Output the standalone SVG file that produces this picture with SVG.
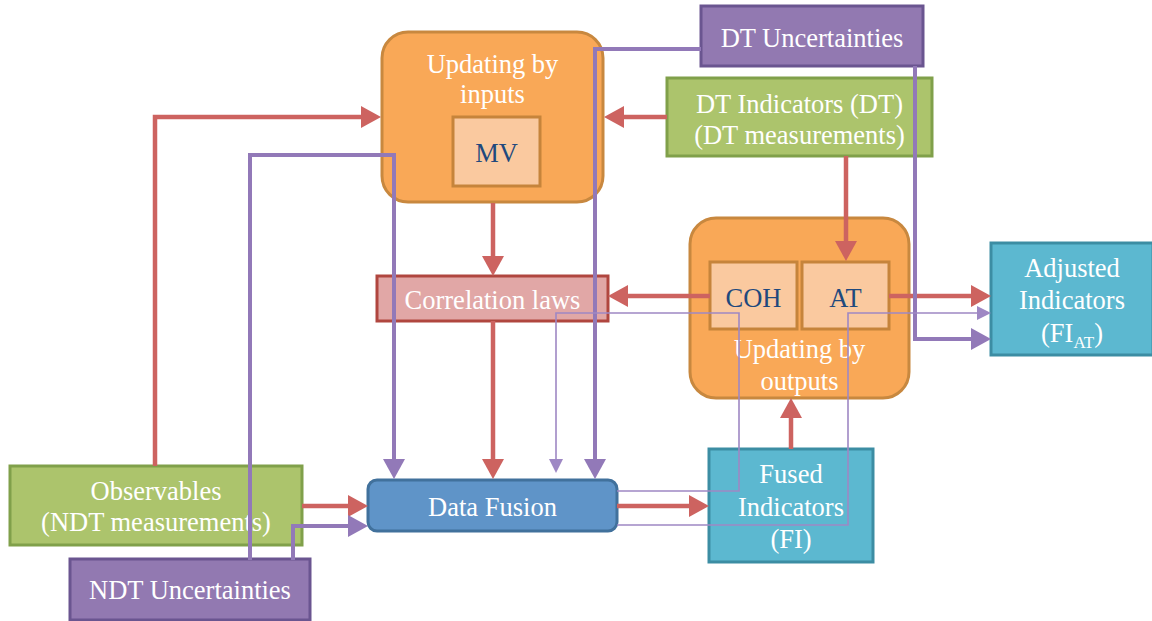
<svg xmlns="http://www.w3.org/2000/svg" width="1152" height="621" viewBox="0 0 1152 621" font-family="Liberation Serif, DejaVu Serif, serif">
<style>
text{font-family:"Liberation Serif","DejaVu Serif",serif;font-size:26.5px;text-anchor:middle;fill:#fff}
.dk{fill:#1F497D}
.org{fill:#F9A857;stroke:#C8883F;stroke-width:3}
.inr{fill:#FAC99F;stroke:#C6843B;stroke-width:3}
.grn{fill:#ACC46C;stroke:#80A04A;stroke-width:3}
.pur{fill:#9279B1;stroke:#6A5590;stroke-width:3}
.cor{fill:#E1A7A6;stroke:#B0463F;stroke-width:3}
.blu{fill:#5F94C8;stroke:#41719C;stroke-width:3}
.tea{fill:#5CB8D0;stroke:#3C8DA3;stroke-width:3}
.r{fill:none;stroke:#CD6360;stroke-width:4.5;marker-end:url(#ar)}
.p{fill:none;stroke:#9279B8;stroke-width:4;marker-end:url(#ap)}
.t{fill:none;stroke:#9E88C4;stroke-width:1.6;marker-end:url(#at)}
</style>
<defs>
<marker id="ar" markerUnits="userSpaceOnUse" markerWidth="20" markerHeight="22" viewBox="0 0 20 22" refX="10" refY="11" orient="auto"><path d="M0,0 L20,11 L0,22z" fill="#CD6360"/></marker>
<marker id="ap" markerUnits="userSpaceOnUse" markerWidth="20" markerHeight="22" viewBox="0 0 20 22" refX="10" refY="11" orient="auto"><path d="M0,0 L20,11 L0,22z" fill="#9279B8"/></marker>
<marker id="at" markerUnits="userSpaceOnUse" markerWidth="14" markerHeight="14" viewBox="0 0 14 14" refX="7" refY="7" orient="auto"><path d="M0,0 L14,7 L0,14z" fill="#9E88C4"/></marker>
</defs>

<g id="updating-inputs">
<rect class="org" x="382" y="32" width="221" height="170" rx="26"/>
<text x="492.5" y="73">Updating by</text>
<text x="492.5" y="103">inputs</text>
<rect class="inr" x="453" y="117" width="87" height="69"/>
<text class="dk" x="496.5" y="162">MV</text>
</g>

<g id="dt-uncertainties">
<rect class="pur" x="701" y="6" width="222" height="60"/>
<text x="812" y="47">DT Uncertainties</text>
</g>

<g id="dt-indicators">
<rect class="grn" x="667" y="78" width="265" height="78"/>
<text x="799.5" y="113">DT Indicators (DT)</text>
<text x="799.5" y="144">(DT measurements)</text>
</g>

<g id="correlation-laws">
<rect class="cor" x="377" y="276" width="231" height="45"/>
<text x="492.5" y="309">Correlation laws</text>
</g>

<g id="updating-outputs">
<rect class="org" x="690" y="218" width="219" height="180" rx="26"/>
<rect class="inr" x="710" y="262" width="87" height="67"/>
<text class="dk" x="753.5" y="307">COH</text>
<rect class="inr" x="802" y="262" width="87" height="67"/>
<text class="dk" x="845.5" y="307">AT</text>
<text x="799.5" y="358">Updating by</text>
<text x="799.5" y="390">outputs</text>
</g>

<g id="adjusted-indicators">
<rect class="tea" x="991" y="243" width="162" height="112"/>
<text x="1072" y="277">Adjusted</text>
<text x="1072" y="309">Indicators</text>
<text x="1072" y="342">(FI<tspan font-size="17" dy="6">AT</tspan><tspan dy="-6">)</tspan></text>
</g>

<g id="observables">
<rect class="grn" x="10" y="466" width="292" height="79"/>
<text x="156" y="500">Observables</text>
<text x="156" y="531">(NDT measurements)</text>
</g>

<g id="ndt-uncertainties">
<rect class="pur" x="70" y="559" width="240" height="61"/>
<text x="190" y="599">NDT Uncertainties</text>
</g>

<g id="data-fusion">
<rect class="blu" x="368" y="480" width="249" height="51" rx="9"/>
<text x="492.5" y="516">Data Fusion</text>
</g>

<g id="fused-indicators">
<rect class="tea" x="709" y="449" width="164" height="113"/>
<text x="791" y="483">Fused</text>
<text x="791" y="516">Indicators</text>
<text x="791" y="548">(FI)</text>
</g>

<g id="connectors">
<path class="r" d="M155,466 V117 H371"/>
<path class="r" d="M667,117 H614"/>
<path class="r" d="M493,203 V266"/>
<path class="r" d="M710,296 H618"/>
<path class="r" d="M493,321 V469"/>
<path class="r" d="M846,156 V251"/>
<path class="r" d="M889,296 H981"/>
<path class="r" d="M302,506 H358"/>
<path class="r" d="M617,506 H699"/>
<path class="r" d="M791,449 V408"/>
<path class="p" d="M701,49 H595 V469"/>
<path class="p" d="M915,66 V339 H981"/>
<path class="p" d="M250,560 V155 H394 V469"/>
<path class="p" d="M293,560 V526 H358"/>
<path class="t" d="M617,491 H739 V313 H556 V466"/>
<path class="t" d="M617,525 H848 V313 H984"/>
</g>
</svg>
